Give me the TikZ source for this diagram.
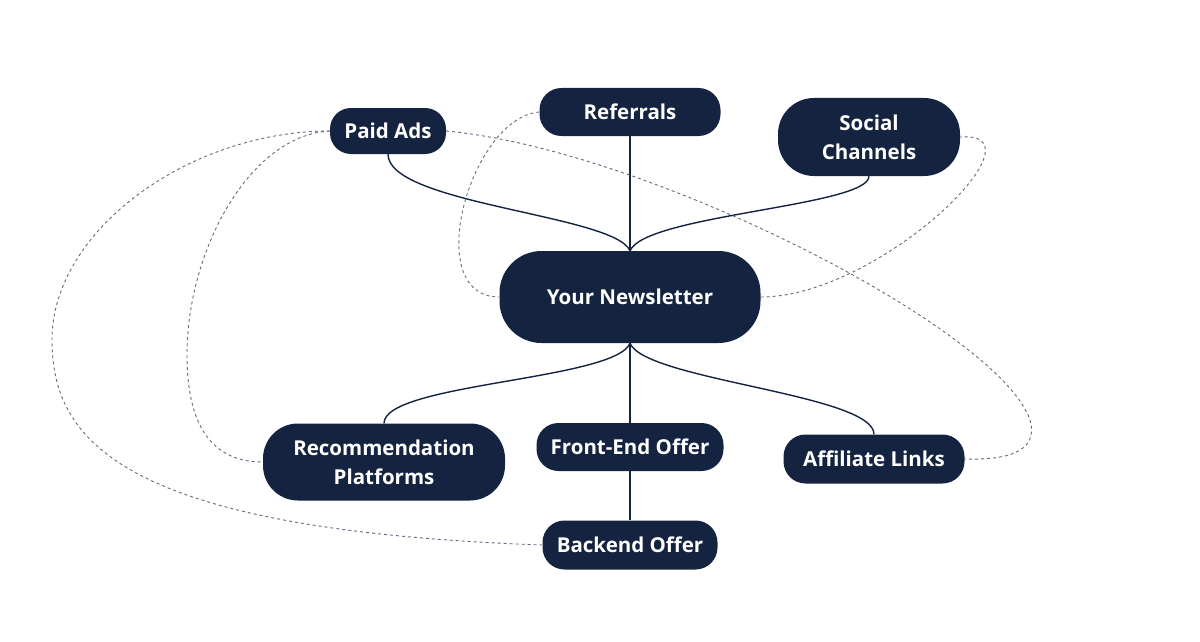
\documentclass[tikz,border=0pt]{standalone}
\usepackage{fontspec}
\setmainfont{Open Sans}
\usepackage{tikz}
\definecolor{navy}{HTML}{14233F}
\definecolor{dotgray}{HTML}{636a7e}
\tikzstyle{pill}=[rectangle,fill=navy,text=white,font=\bfseries\fontsize{20.5}{29}\selectfont,align=center,inner sep=0pt,minimum height=48pt,rounded corners=22pt]
\tikzstyle{branch}=[draw=navy,line width=1.4pt]
\tikzstyle{link}=[draw=dotgray,line width=0.9pt,dash pattern=on 3pt off 3pt]

\begin{document}
\begin{tikzpicture}[x=1pt,y=-1pt]
      \useasboundingbox (0,0) rectangle (1200,642);
      \node [pill, minimum width=261pt, minimum height=92pt, rounded corners=42pt] (newsletter) at (630,297) {Your Newsletter};
      \node [pill, minimum width=116pt, minimum height=46pt, rounded corners=21pt] (paidads) at (388,131) {Paid Ads};
      \node [pill, minimum width=181pt] (referrals) at (630,112) {Referrals};
      \node [pill, minimum width=182pt, minimum height=78pt, rounded corners=36pt] (social) at (869,137) {Social\\Channels};
      \node [pill, minimum width=242pt, minimum height=77pt, rounded corners=35pt] (recplatforms) at (384,462) {Recommendation\\Platforms};
      \node [pill, minimum width=187pt] (frontend) at (630,447) {Front-End Offer};
      \node [pill, minimum width=181pt, minimum height=49pt] (affiliate) at (874,459) {Affiliate Links};
      \node [pill, minimum width=175pt, minimum height=49pt] (backend) at (630,545) {Backend Offer};

      % tree
      \draw [branch] (paidads.south) .. controls +(0,50) and +(-15,-36) .. (newsletter.north);
      \draw [branch] (referrals.south) -- (newsletter.north);
      \draw [branch] (social.south) .. controls +(0,30) and +(15,-36) .. (newsletter.north);
      \draw [branch] (newsletter.south) .. controls +(-15,37) and +(0,-40) .. (recplatforms.north);
      \draw [branch] (newsletter.south) -- (frontend.north);
      \draw [branch] (newsletter.south) .. controls +(15,37) and +(0,-40) .. (affiliate.north);
      \draw [branch] (frontend.south) -- (backend.north);

      % dotted links
      \draw [link] (paidads.west) .. controls (190,131) and (52,230) .. (52,340) .. controls (52,440) and (120,530) .. (backend.west);
      \draw [link] (paidads.west) .. controls (250,135) and (187,250) .. (187,355) .. controls (187,430) and (215,462) .. (recplatforms.west);
      \draw [link] (paidads.east) .. controls (650,150) and (1000,330) .. (1030,420) .. controls (1040,455) and (1000,460) .. (affiliate.east);
      \draw [link] (referrals.west) .. controls (470,118) and (420,297) .. (newsletter.west);
      \draw [link] (newsletter.east) .. controls (880,297) and (1050,130) .. (social.east);
    \end{tikzpicture}
\end{document}
